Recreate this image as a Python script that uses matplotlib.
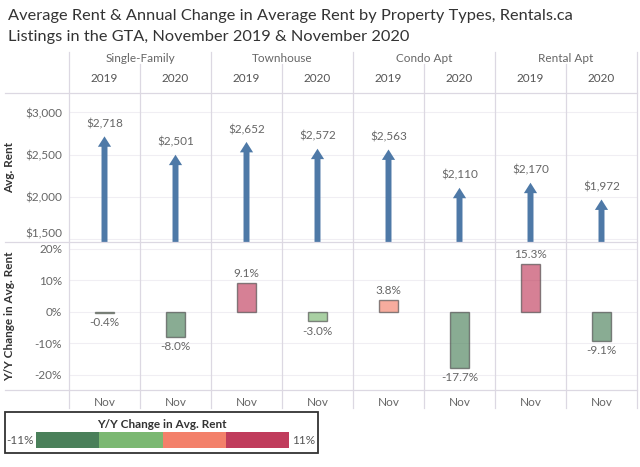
import numpy as np
import matplotlib
matplotlib.use("Agg")
import matplotlib.pyplot as plt
from matplotlib.patches import FancyArrowPatch, Rectangle
from matplotlib.lines import Line2D
from matplotlib import transforms

plt.rcParams['font.family'] = ['Lato', 'DejaVu Sans']

# data
types = ["Single-Family", "Townhouse", "Condo Apt", "Rental Apt"]
years = ["2019", "2020"]
avg_rent = [2718, 2501, 2652, 2572, 2563, 2110, 2170, 1972]
yoy_change = [-0.4, -8.0, 9.1, -3.0, 3.8, -17.7, 15.3, -9.1]
rent_ticks = [1500, 2000, 2500, 3000]
pct_ticks = [-20, -10, 0, 10, 20]
legend_edges = [-11, -5.5, 0, 5.5, 11]
step_colors = ["#4a805a", "#7bb872", "#f3806a", "#c03c5c"]

W, H = 640, 467
fig = plt.figure(figsize=(W / 100, H / 100), dpi=100)
fig.patch.set_facecolor("white")


def fx(px):
    return px / W


def fy(py):
    return 1 - py / H


txt_gray = "#666666"
line_col = "#dcd8e2"
grid_col = "#f0eef3"
arrow_col = "#4e79a7"

# title
fig.text(fx(8), fy(16), "Average Rent & Annual Change in Average Rent by Property Types, Rentals.ca",
         fontsize=11.8, color="#333333", va="center", ha="left")
fig.text(fx(8), fy(37), "Listings in the GTA, November 2019 & November 2020",
         fontsize=11.8, color="#333333", va="center", ha="left")

x0, x1 = 69, 637
ax_top = fig.add_axes([fx(x0), fy(242), fx(x1) - fx(x0), (242 - 93) / H])
ax_bot = fig.add_axes([fx(x0), fy(390), fx(x1) - fx(x0), (390 - 242) / H])

n = len(avg_rent)
xs = np.arange(n) + 0.5

for ax in (ax_top, ax_bot):
    ax.set_xlim(0, n)
    for s in ax.spines.values():
        s.set_visible(False)
    ax.set_xticks([])
    ax.tick_params(axis="y", length=0, pad=5, labelsize=8.5, labelcolor=txt_gray)
    ax.set_facecolor("none")

# top panel: avg rent arrows
ylo, yhi = 1470, 3230
ax_top.set_ylim(ylo, yhi)
ax_top.set_yticks(rent_ticks)
ax_top.set_yticklabels(["${:,}".format(v) for v in rent_ticks])
ax_top.get_yticklabels()[0].set_va("bottom")
for v in rent_ticks:
    ax_top.axhline(v, color=grid_col, lw=0.8, zorder=0)
for x, v in zip(xs, avg_rent):
    arr = FancyArrowPatch((x, ylo), (x, v),
                          arrowstyle="simple,head_length=0.75,head_width=0.95,tail_width=0.43",
                          mutation_scale=10, shrinkA=0, shrinkB=0,
                          facecolor=arrow_col, edgecolor="none", clip_on=False, zorder=3)
    ax_top.add_patch(arr)
    ax_top.annotate("${:,}".format(v), (x, v), xytext=(0, 9), textcoords="offset points",
                    ha="center", va="center", fontsize=8.5, color=txt_gray)
ax_top.set_ylabel("Avg. Rent", fontsize=8.5, fontweight="bold", color="#333333")
ax_top.yaxis.set_label_coords(-0.095, 0.5)

# bottom panel: y/y change bars
ax_bot.set_ylim(-24.8, 22.2)
ax_bot.set_yticks(pct_ticks)
ax_bot.set_yticklabels(["{}%".format(v) for v in pct_ticks])
for v in pct_ticks:
    ax_bot.axhline(v, color=grid_col, lw=0.8, zorder=0)
bar_cols = [step_colors[np.searchsorted(legend_edges[1:-1], v)] for v in yoy_change]
ax_bot.bar(xs, yoy_change, width=0.28, color=bar_cols, alpha=0.65,
           edgecolor="#4a4a4a", linewidth=1.0, zorder=3)
for x, v in zip(xs, yoy_change):
    off = 7 if v > 0 else -7
    ax_bot.annotate("{:.1f}%".format(v), (x, v), xytext=(0, off), textcoords="offset points",
                    ha="center", va="center", fontsize=8.5, color=txt_gray)
ax_bot.set_ylabel("Y/Y Change in Avg. Rent", fontsize=8.5, fontweight="bold", color="#333333")
ax_bot.yaxis.set_label_coords(-0.095, 0.5)

# headers and grid lines
blend = transforms.blended_transform_factory(ax_top.transData, fig.transFigure)
for g, name in enumerate(types):
    fig.text(2 * g + 1, fy(58), name, transform=blend, ha="center", va="center",
             fontsize=8.5, color=txt_gray)
for i, x in enumerate(xs):
    fig.text(x, fy(79), years[i % 2], transform=blend, ha="center", va="center",
             fontsize=8.5, color="#555555")
    fig.text(x, fy(402), "Nov", transform=blend, ha="center", va="center",
             fontsize=8.5, color=txt_gray)
for k in range(n + 1):
    ytop = 52 if k % 2 == 0 else 64
    fig.add_artist(Line2D([k, k], [fy(ytop), fy(408)], transform=blend,
                          color=line_col, lw=0.9))
for py in (93, 242, 390):
    fig.add_artist(Line2D([fx(5), fx(637)], [fy(py), fy(py)], color=line_col, lw=0.9))

# legend
fig.add_artist(Rectangle((fx(5), fy(453)), fx(318) - fx(5), (453 - 412) / H,
                         transform=fig.transFigure, fill=False, edgecolor="#333333", lw=1.3))
fig.text(fx(162), fy(424), "Y/Y Change in Avg. Rent", ha="center", va="center",
         fontsize=8.5, fontweight="bold", color="#333333")
ax_leg = fig.add_axes([fx(36), fy(448), fx(289) - fx(36), (448 - 432) / H])
ax_leg.barh(0, np.diff(legend_edges), left=legend_edges[:-1], height=1, color=step_colors)
ax_leg.set_xlim(legend_edges[0], legend_edges[-1])
ax_leg.set_ylim(-0.5, 0.5)
ax_leg.axis("off")
fig.text(fx(6), fy(440), "{}%".format(legend_edges[0]), ha="left", va="center",
         fontsize=8.5, color="#555555")
fig.text(fx(292), fy(440), "{}%".format(legend_edges[-1]), ha="left", va="center",
         fontsize=8.5, color="#555555")

fig.savefig("out.png", dpi=100)
